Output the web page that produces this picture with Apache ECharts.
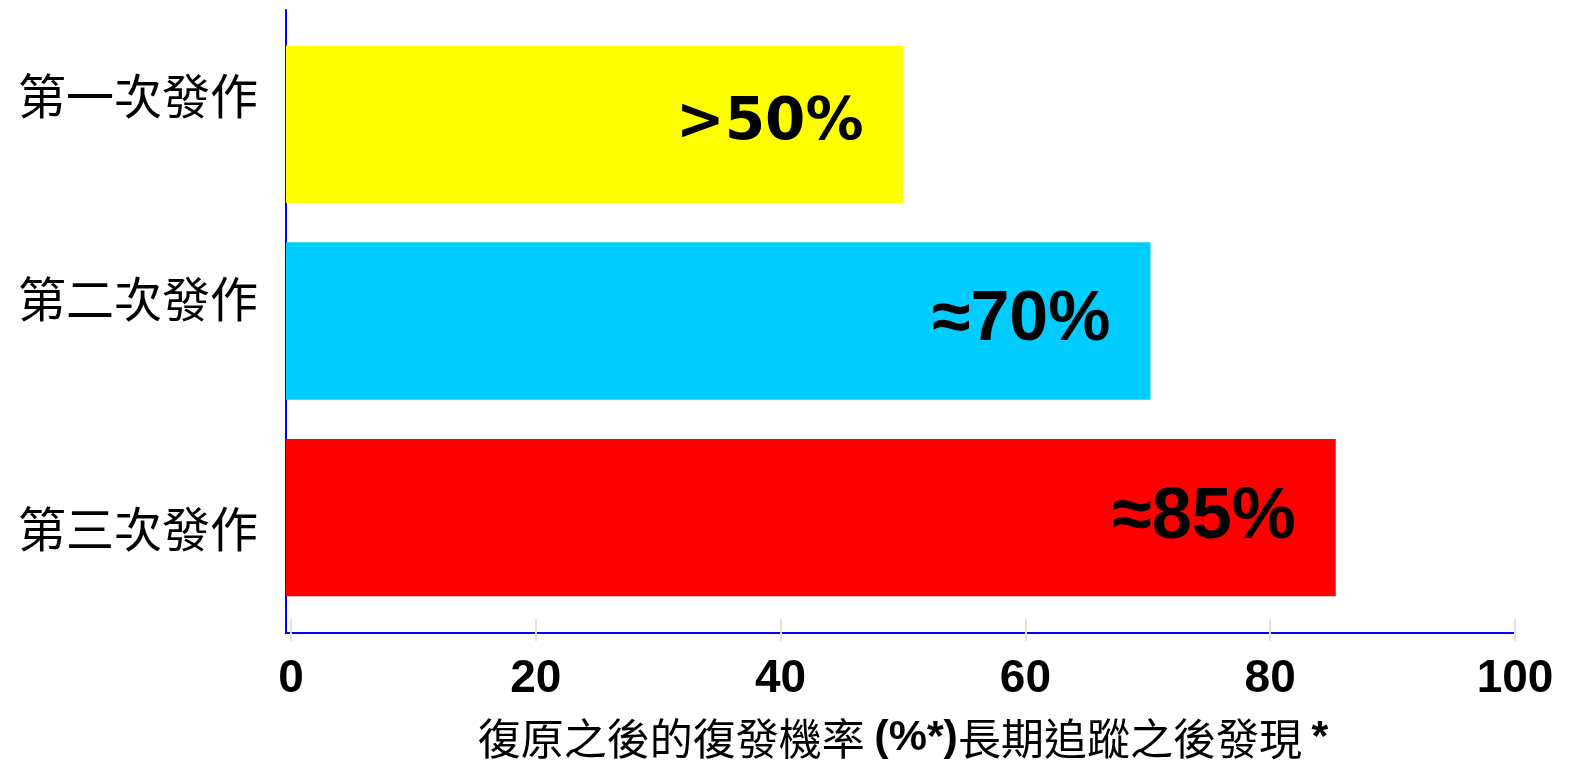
<!DOCTYPE html>
<html>
<head>
<meta charset="utf-8">
<script src="https://cdn.jsdelivr.net/npm/echarts@6/dist/echarts.min.js"></script>
<style>
  html, body { margin: 0; padding: 0; background: #ffffff; }
  #chart { width: 1578px; height: 765px; }
</style>
</head>
<body>
<div id="chart"></div>
<script>
// Relapse rate after recovery, by episode
const categories = ['第一次發作', '第二次發作', '第三次發作'];
const values = [50, 70, 85];
const valueLabels = ['>50%', '≈70%', '≈85%'];
const barColors = ['#FFFF00', '#00CCFF', '#FF0000'];
const xTicks = { min: 0, max: 100, interval: 20 };

const LATIN = '"Liberation Sans", Arial, sans-serif';
const WIDE = '"DejaVu Sans", "Liberation Sans", sans-serif';
const CJK = '"Noto Sans CJK TC", "Noto Sans CJK SC", sans-serif';

// per-row value-label typography and vertical nudges for the category names
const valueFonts = [
  { fontSize: 58, fontFamily: WIDE },
  { fontSize: 70, fontFamily: LATIN },
  { fontSize: 72, fontFamily: LATIN }
];
const catPads = [[0, 0, 58, 0], [0, 0, 44, 0], [22, 0, 0, 0]];

const catRich = {};
catPads.forEach((p, i) => {
  catRich['c' + i] = { fontSize: 48, fontFamily: CJK, color: '#000', padding: p };
});

const chart = echarts.init(document.getElementById('chart'), null, { renderer: 'canvas' });

const tickStyle = { color: '#E6E1D3', width: 2 };

const option = {
  animation: false,
  backgroundColor: '#ffffff',
  grid: [
    { left: 286, right: 63, top: 10, bottom: 132 },   // frame: blue axis lines
    { left: 286, right: 57, top: 26, bottom: 149 },   // bars
    { left: 291, right: 63, top: 10, bottom: 132 }    // ticks, tick labels, axis name
  ],
  xAxis: [
    {
      gridIndex: 0, type: 'value',
      min: xTicks.min, max: xTicks.max, interval: xTicks.interval,
      axisLine: { show: true, lineStyle: { color: '#0000FF', width: 2 } },
      axisTick: { show: false },
      axisLabel: { show: false },
      splitLine: { show: false }
    },
    {
      gridIndex: 1, type: 'value',
      min: xTicks.min, max: xTicks.max, interval: xTicks.interval,
      show: false
    },
    {
      gridIndex: 2, type: 'value', position: 'bottom',
      min: xTicks.min, max: xTicks.max, interval: xTicks.interval,
      axisLine: { show: false },
      axisTick: { show: true, length: 13, lineStyle: tickStyle },
      splitLine: { show: false },
      axisLabel: {
        fontSize: 46, fontWeight: 'bold', fontFamily: LATIN, color: '#000', margin: 28
      },
      name: '{a|復原之後的復發機率 }{b|(%*)}{a|長期追蹤之後發現 }{b|*}',
      nameLocation: 'middle',
      nameGap: 89,
      nameTextStyle: {
        rich: {
          a: { fontSize: 43, fontFamily: CJK, color: '#000' },
          b: { fontSize: 43, fontFamily: LATIN, fontWeight: 'bold', color: '#000' }
        }
      }
    },
    {
      // inner half of the crossing tick marks
      gridIndex: 2, type: 'value', position: 'bottom', offset: 0,
      min: xTicks.min, max: xTicks.max, interval: xTicks.interval,
      axisLine: { show: false },
      axisTick: { show: true, inside: true, length: 9, lineStyle: tickStyle },
      axisLabel: { show: false },
      splitLine: { show: false }
    }
  ],
  yAxis: [
    {
      gridIndex: 0, type: 'category', data: categories,
      axisLine: { show: true, lineStyle: { color: '#0000FF', width: 2 } },
      axisTick: { show: false },
      axisLabel: { show: false },
      splitLine: { show: false }
    },
    {
      gridIndex: 1, type: 'category', data: categories, inverse: true,
      axisLine: { show: false },
      axisTick: { show: false },
      splitLine: { show: false },
      axisLabel: {
        margin: 28,
        formatter: (v, i) => '{c' + i + '|' + v + '}',
        rich: catRich
      }
    },
    {
      gridIndex: 2, type: 'category', data: categories,
      show: false
    }
  ],
  series: [
    {
      type: 'bar',
      xAxisIndex: 1,
      yAxisIndex: 1,
      barCategoryGap: '20%',
      data: values.map((v, i) => ({
        value: v,
        itemStyle: { color: barColors[i] },
        label: valueFonts[i]
      })),
      label: {
        show: true,
        position: 'insideRight',
        distance: 40,
        color: '#000',
        fontWeight: 'bold',
        fontFamily: LATIN,
        formatter: (p) => valueLabels[p.dataIndex]
      }
    }
  ]
};

chart.setOption(option);
</script>
</body>
</html>
